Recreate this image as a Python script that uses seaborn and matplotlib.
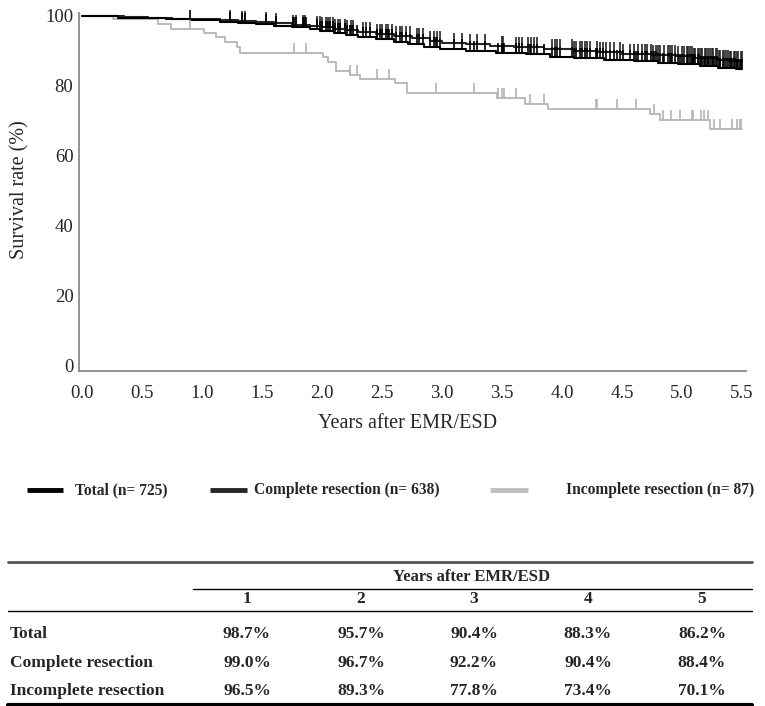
import numpy as np
import pandas as pd
import matplotlib
matplotlib.use("Agg")
import matplotlib.pyplot as plt
import seaborn as sns

# Kaplan-Meier steps (years after EMR/ESD, survival %)
total_t = [0.0, 0.10, 0.30, 0.50, 0.70, 0.90, 0.98, 1.15, 1.30, 1.45, 1.60, 1.75, 1.90,
           1.98, 2.10, 2.20, 2.30, 2.45, 2.60, 2.72, 2.85, 2.98, 3.20, 3.45, 3.70, 3.90,
           4.10, 4.35, 4.60, 4.80, 4.97, 5.15, 5.30, 5.45, 5.50]
total_s = [100, 99.8, 99.5, 99.3, 99.0, 98.8, 98.7, 98.3, 97.9, 97.6, 97.2, 96.8, 96.3,
           95.7, 95.1, 94.4, 93.9, 93.3, 92.6, 91.8, 91.1, 90.4, 90.0, 89.5, 89.0, 88.3,
           87.9, 87.5, 87.1, 86.6, 86.2, 85.7, 85.2, 84.8, 84.8]

complete_t = [0.0, 0.15, 0.35, 0.55, 0.75, 0.95, 1.15, 1.30, 1.45, 1.60, 1.75, 1.90, 2.00,
              2.10, 2.20, 2.30, 2.45, 2.60, 2.75, 2.90, 3.00, 3.20, 3.40, 3.60, 3.85, 4.10,
              4.30, 4.50, 4.75, 4.95, 5.10, 5.30, 5.40, 5.50]
complete_s = [100, 99.8, 99.6, 99.4, 99.2, 99.0, 98.8, 98.5, 98.2, 97.9, 97.5, 97.1, 96.7,
              96.3, 95.8, 95.3, 94.8, 94.2, 93.6, 92.9, 92.2, 91.8, 91.4, 91.0, 90.4, 90.0,
              89.6, 89.2, 88.8, 88.4, 88.0, 87.5, 87.2, 87.2]

incomplete_t = [0.0, 0.26, 0.63, 0.74, 1.02, 1.12, 1.19, 1.29, 1.32, 2.01, 2.05, 2.12, 2.23,
                2.32, 2.61, 2.71, 3.46, 3.69, 3.88, 4.73, 4.82, 5.23, 5.50]
incomplete_s = [100, 99.0, 97.6, 96.3, 95.1, 93.8, 92.6, 91.1, 89.3, 88.1, 86.9, 84.3, 83.1,
                81.8, 80.7, 77.8, 76.4, 74.8, 73.4, 71.8, 70.1, 67.7, 67.7]

# censored observations (tick marks)
complete_cens = [1.23, 1.33, 1.36, 1.53, 1.62, 1.76, 1.78, 1.84, 1.86, 1.96, 1.98, 2.00, 2.03,
                 2.05, 2.07, 2.09, 2.11, 2.13, 2.15, 2.19, 2.21, 2.24, 2.26, 2.34, 2.37, 2.40,
                 2.46, 2.48, 2.50, 2.53, 2.55, 2.58, 2.62, 2.65, 2.67, 2.70, 2.73, 2.79, 2.81,
                 2.84, 2.90, 2.93, 2.96, 2.98, 3.10, 3.17, 3.23, 3.29, 3.36, 3.50, 3.51, 3.62,
                 3.64, 3.67, 3.72, 3.74, 3.77, 3.79, 3.92, 3.94, 3.96, 3.98, 4.08, 4.10, 4.12,
                 4.15, 4.17, 4.19, 4.21, 4.23, 4.29, 4.32, 4.34, 4.37, 4.40, 4.43, 4.48, 4.51,
                 4.57, 4.60, 4.63, 4.67, 4.69, 4.71, 4.74, 4.76, 4.78, 4.80, 4.82, 4.85, 4.88,
                 4.90, 4.92, 4.94, 4.97, 5.00, 5.02, 5.04, 5.05, 5.07, 5.08, 5.10, 5.11, 5.13,
                 5.14, 5.16, 5.17, 5.19, 5.20, 5.22, 5.23, 5.25, 5.26, 5.28, 5.29, 5.31, 5.32,
                 5.34, 5.35, 5.37, 5.38, 5.40, 5.41, 5.43, 5.44, 5.46, 5.47, 5.49, 5.50]
incomplete_cens = [0.90, 1.77, 1.87, 2.23, 2.29, 2.46, 2.56, 2.95, 3.27, 3.47, 3.50, 3.52, 3.62,
                   3.73, 3.85, 4.28, 4.29, 4.46, 4.62, 4.77, 4.84, 4.91, 4.98, 5.08, 5.09, 5.16,
                   5.18, 5.22, 5.27, 5.32, 5.42, 5.46, 5.48, 5.49]
total_cens = sorted(complete_cens + incomplete_cens)

groups = ["Total", "Complete resection", "Incomplete resection"]
group_n = [725, 638, 87]
colors = ["#000000", "#262626", "#b4b4b4"]

# table
table_years = ["1", "2", "3", "4", "5"]
table_total = ["98.7%", "95.7%", "90.4%", "88.3%", "86.2%"]
table_complete = ["99.0%", "96.7%", "92.2%", "90.4%", "88.4%"]
table_incomplete = ["96.5%", "89.3%", "77.8%", "73.4%", "70.1%"]

sns.set_style("white")
plt.rcParams["font.family"] = ["Liberation Serif", "DejaVu Serif"]

curves = [(total_t, total_s, total_cens),
          (complete_t, complete_s, complete_cens),
          (incomplete_t, incomplete_s, incomplete_cens)]

df = pd.concat([pd.DataFrame({"years": t, "surv": s, "group": g})
                for (t, s, _), g in zip(curves, groups)], ignore_index=True)

W, H = 765, 706
fig = plt.figure(figsize=(W / 100, H / 100), dpi=100)
ax = fig.add_axes([79 / W, 1 - 371 / H, (746 - 79) / W, (371 - 13) / H])

# draw the grey curve first so the dark ones sit on top
for g, c in list(zip(groups, colors))[::-1]:
    sub = df[df["group"] == g]
    sns.lineplot(data=sub, x="years", y="surv", ax=ax, color=c, estimator=None,
                 drawstyle="steps-post", lw=1.5 if g != "Incomplete resection" else 1.3,
                 clip_on=False, legend=False)

for (t, s, cens), c in list(zip(curves, colors))[::-1]:
    t = np.asarray(t)
    s = np.asarray(s)
    idx = np.searchsorted(t, cens, side="right") - 1
    ax.plot(cens, s[idx], ls="", marker=2, ms=7.5, mew=1.2, color=c, clip_on=False)

ax.set_xlim(-0.025, 5.533)
ax.set_ylim(-1.5, 100.8)
ax.set_xticks(np.arange(0, 5.51, 0.5))
ax.set_xticklabels([f"{v:.1f}" for v in np.arange(0, 5.51, 0.5)])
ax.set_yticks([0, 20, 40, 60, 80, 100])
sns.despine(ax=ax)
for sp in ["left", "bottom"]:
    ax.spines[sp].set_color("#8a8a8a")
    ax.spines[sp].set_linewidth(1.3)
ax.tick_params(axis="both", direction="out", length=3, width=1, color="#8a8a8a",
               labelsize=13.5)
ax.tick_params(axis="y", pad=1)
ax.tick_params(axis="x", pad=7)
ax.set_xlabel("Years after EMR/ESD", fontsize=14.5)
ax.set_ylabel("Survival rate (%)", fontsize=14.5)
ax.xaxis.set_label_coords((408 - 79) / (746 - 79), (371 - 423) / (371 - 13))
ax.xaxis.label.set_va("center")
ax.yaxis.set_label_coords((20 - 79) / (746 - 79), (371 - 190) / (371 - 13))
ax.yaxis.label.set_va("center")

# overlay in pixel coordinates for legend and table
ov = fig.add_axes([0, 0, 1, 1])
ov.set_xlim(0, W)
ov.set_ylim(H, 0)
ov.axis("off")

leg_line = [(27, 63), (210, 247), (490, 528)]
leg_text = [75, 254, 566]
for (x0, x1), xt, g, n, c in zip(leg_line, leg_text, groups, group_n, colors):
    lc = c if g != "Incomplete resection" else "#c0c0c0"
    ov.plot([x0, x1], [490, 490], color=lc, lw=3.5, solid_capstyle="butt")
    ov.text(xt, 490, f"{g} (n= {n})", weight="bold", fontsize=11.2,
            ha="left", va="center")

ov.plot([8, 752], [562, 562], color="#555555", lw=2)
ov.plot([193, 752], [589, 589], color="#000000", lw=1)
ov.plot([8, 752], [611, 611], color="#000000", lw=1)
ov.plot([8, 752], [704.5, 704.5], color="#000000", lw=3)
ov.text(472, 577, "Years after EMR/ESD", weight="bold", fontsize=12,
        ha="center", va="center")
col_x = [247, 361, 474, 588, 702]
for x, lab in zip(col_x, table_years):
    ov.text(x, 599, lab, weight="bold", fontsize=12.5, ha="center", va="center")
rows = [("Total", table_total, 634), ("Complete resection", table_complete, 663),
        ("Incomplete resection", table_incomplete, 691)]
for name, vals, y in rows:
    ov.text(10, y, name, weight="bold", fontsize=12.5, ha="left", va="center")
    for x, v in zip(col_x, vals):
        ov.text(x, y, v, weight="bold", fontsize=12.5, ha="center", va="center")

fig.savefig("out.png", dpi=100)
